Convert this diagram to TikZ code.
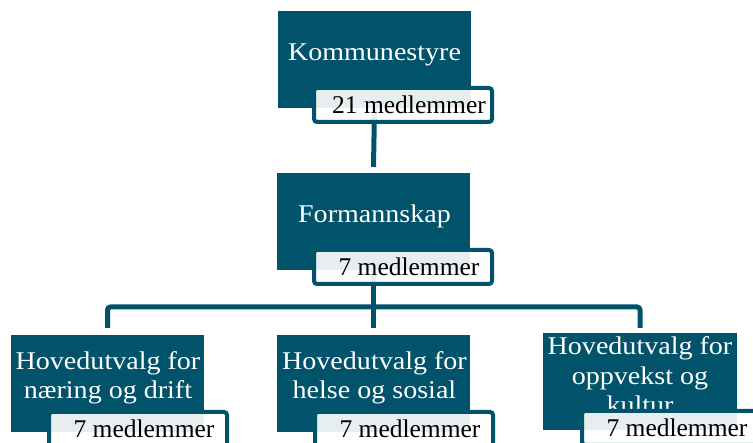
\documentclass[tikz,border=0pt]{standalone}
\usepackage{fontspec}
\setmainfont{Liberation Serif}
\newfontfamily\boxfont[FakeStretch=1.1]{Liberation Serif}
\definecolor{teal1}{RGB}{0,83,107}
\begin{document}
\begin{tikzpicture}[x=1pt,y=-1pt,
 mainbox/.style={fill=teal1, draw=none, minimum width=193pt, minimum height=97pt, inner sep=0pt, outer sep=0pt, anchor=north west},
 wtext/.style={text=white, font=\boxfont\fontsize{25.5}{29.5}\selectfont, align=center, inner sep=0pt, anchor=base},
 lbl/.style={draw=teal1, line width=4pt, rounded corners=3pt, fill=white, fill opacity=0.9, text opacity=1, minimum width=178pt, minimum height=34pt, inner sep=0pt, outer sep=0pt, anchor=north west, text height=17pt, text depth=0pt, font=\fontsize{25.5}{29.5}\selectfont, text=black},
 conn/.style={draw=teal1, line width=5pt, rounded corners=3pt}]
\useasboundingbox (0,0) rectangle (753,443);
\clip (0,0) rectangle (753,443);
% boxes
\node[mainbox] (ks) at (278,11) {};
\node[mainbox] (fm) at (277,173) {};
\node[mainbox] (b1) at (11,335) {};
\node[mainbox] (b2) at (277,335) {};
\node[mainbox, minimum width=194pt] (b3) at (543,333) {};
% box texts (base = last line)
\node[wtext] (kst) at (374.5,61) {Kommunestyre};
\node[wtext] (fmt) at (374.5,223) {Formannskap};
\node[wtext] (b1t) at (108,399) {Hovedutvalg for\\næring og drift};
\node[wtext] (b2t) at (374.5,399) {Hovedutvalg for\\helse og sosial};
\node[wtext] (b3t) at (640,414) {Hovedutvalg for\\oppvekst og\\kultur};
% connectors
\draw[conn] (ks.south) -- ([yshift=6pt]fm.north);
\draw[conn] (fm.south) -- ([yshift=7pt]b2.north);
\draw[conn] ([yshift=7pt]b1.north) -- ([yshift=28pt]b1.north) -- ([yshift=26pt]b3.north) -- ([yshift=5pt]b3.north);
% member labels
\node[lbl] (ksl) at (314,88) {\hspace*{12pt}21 medlemmer};
\node[lbl] (fml) at (314,250) {\hspace*{12pt}7 medlemmer};
\node[lbl] (b1l) at (49,412) {\hspace*{12pt}7 medlemmer};
\node[lbl] (b2l) at (315,412) {\hspace*{12pt}7 medlemmer};
\node[lbl] (b3l) at (582,411) {\hspace*{12pt}7 medlemmer};
\end{tikzpicture}
\end{document}
